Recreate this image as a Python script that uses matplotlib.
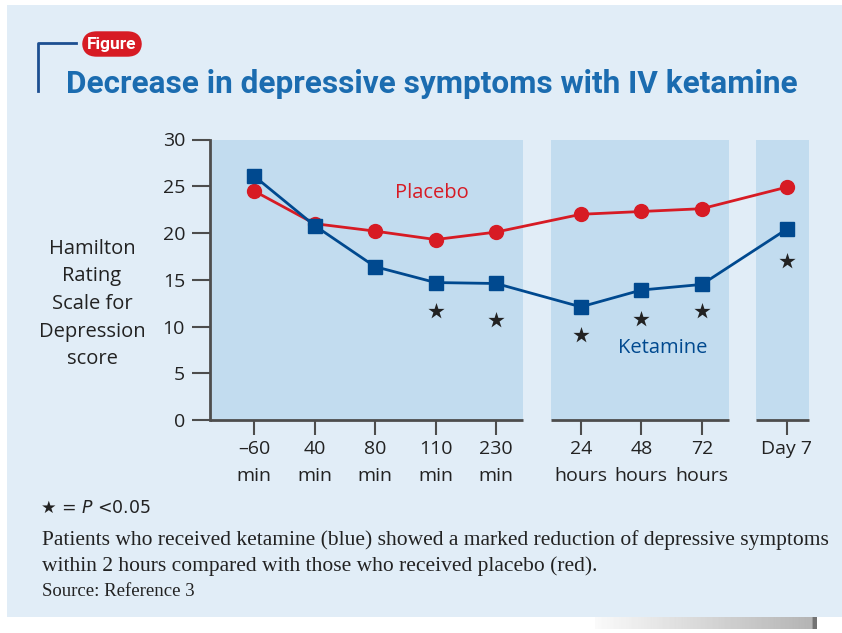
# Ketamine vs. placebo: Hamilton depression score over time
import matplotlib.pyplot as plt
import numpy as np

# Daten
time_points = ['–60\nmin', '40\nmin', '80\nmin', '110\nmin', '230\nmin',
               '24\nhours', '48\nhours', '72\nhours', 'Day 7']
groups = [5, 3, 1]   # minutes, hours, day 7
ketamine = [26.1, 20.8, 16.4, 14.7, 14.6, 12.1, 13.9, 14.5, 20.4]
placebo = [24.5, 21.0, 20.2, 19.3, 20.1, 22.0, 22.3, 22.6, 24.9]
star_idx = [3, 4, 5, 6, 7, 8]
star_vals = [11.7, 10.7, 9.1, 10.8, 11.7, 17.0]
yticks = [0, 5, 10, 15, 20, 25, 30]

RED = '#d71b24'
BLUE = '#00498f'
TITLE_BLUE = '#1b6cb0'
PANEL = '#e1edf7'
SHADE = '#c2dcef'
AXIS = '#4d4d4d'
SANS = ['Open Sans', 'DejaVu Sans']
COND = ['Roboto', 'DejaVu Sans']

# x-Positionen: Gruppen mit Luecke dazwischen
gap = 0.4
x = []
start = 0.0
for g in groups:
    x += [start + i for i in range(g)]
    start = x[-1] + 1 + gap
x = np.array(x)

fig = plt.figure(figsize=(8.42, 6.33), dpi=100)
fig.patch.set_facecolor('white')

# Hintergrund-Panel
bg = fig.add_axes([7 / 842, 16 / 633, 1, 1 - 21 / 633], zorder=-5)
bg.set_facecolor(PANEL)
bg.set_xticks([])
bg.set_yticks([])
for s in bg.spines.values():
    s.set_visible(False)

# Schatten unten rechts (Seitenknick)
sh = fig.add_axes([595 / 842, 4 / 633, 222 / 842, 12 / 633], zorder=-6)
grad = np.tile(np.linspace(0.98, 0.70, 200), (12, 1))
grad[:, -4:] = 0.45
sh.imshow(grad, cmap='gray', vmin=0, vmax=1, aspect='auto')
sh.axis('off')

ax = fig.add_axes([210 / 842, 213 / 633, 599 / 842, 280.5 / 633], zorder=1)
ax.set_facecolor('none')
xl, xr = -0.727, x[-1] + 0.37
ax.set_xlim(xl, xr)
ax.set_ylim(0, 30)

# Schattierte Bereiche
spans = []
k = 0
for gi, g in enumerate(groups):
    a = x[k] - 0.5 if gi > 0 else xl
    b = x[k + g - 1] + 0.45 if gi < 2 else xr
    spans.append((a, b))
    k += g
for a, b in spans:
    ax.axvspan(a, b, color=SHADE, zorder=0, lw=0)
    ax.hlines(0, a, b, color=AXIS, lw=2, clip_on=False, zorder=3)

for s in ['top', 'right', 'bottom']:
    ax.spines[s].set_visible(False)
ax.spines['left'].set_color(AXIS)
ax.spines['left'].set_linewidth(2)
ax.spines['left'].set_zorder(3)

ax.plot(x, placebo, color=RED, lw=2, marker='o', ms=10, zorder=4)
ax.plot(x, ketamine, color=BLUE, lw=2, marker='s', ms=9.5, zorder=5)
ax.scatter(x[star_idx], star_vals, marker='*', s=150, color='#222222',
           linewidths=0, zorder=5)

ax.text(2.94, 24.3, 'Placebo', color=RED, fontsize=14.5, family=SANS,
        ha='center', va='center')
ax.text(6.76, 7.7, 'Ketamine', color=BLUE, fontsize=14.5, family=SANS,
        ha='center', va='center')

ax.set_yticks(yticks)
ax.set_yticklabels([str(v) for v in yticks], fontsize=14, family=SANS, color='#222222')
ax.tick_params(axis='y', length=13, width=1.5, color=AXIS, pad=5)
ax.set_xticks(x)
ax.set_xticklabels(time_points, fontsize=14, family=SANS, color='#222222',
                   linespacing=1.62)
ax.tick_params(axis='x', length=11, width=1.5, color=AXIS, pad=3.5, direction='out')

fig.text(92 / 842, 1 - 304 / 633, 'Hamilton\nRating\nScale for\nDepression\nscore',
         fontsize=14.5, family=SANS, color='#222222', ha='center', va='center',
         linespacing=1.5)

# Titel
fig.text(66 / 842, 1 - 93 / 633, 'Decrease in depressive symptoms with IV ketamine',
         fontsize=22.7, fontweight='bold', color=TITLE_BLUE, family=COND,
         va='baseline')
fig.add_artist(plt.Line2D([38 / 842, 38 / 842, 76 / 842],
                          [1 - 91 / 633, 1 - 43 / 633, 1 - 43 / 633],
                          color='#1d4f91', lw=2))
fig.text(112 / 842, 1 - 44 / 633, 'Figure', fontsize=12.5, fontweight='bold',
         color='white', family=COND, ha='center', va='center',
         bbox=dict(boxstyle='round,pad=0.3,rounding_size=0.85', fc='#d71b24', ec='none'))

# Fussnoten
fig.text(40 / 842, 1 - 508 / 633, '★ = $\\it{P}$ <0.05', fontsize=12.5,
         family=['DejaVu Sans'], color='#222222', va='center')
fig.text(42 / 842, 1 - 540 / 633,
         'Patients who received ketamine (blue) showed a marked reduction of depressive symptoms',
         fontsize=15.5, family=['Liberation Serif'], color='#222222', va='center')
fig.text(42 / 842, 1 - 566 / 633,
         'within 2 hours compared with those who received placebo (red).',
         fontsize=15.5, family=['Liberation Serif'], color='#222222', va='center')
fig.text(42 / 842, 1 - 592 / 633, 'Source: Reference 3', fontsize=13.5,
         family=['Liberation Serif'], color='#222222', va='center')

plt.savefig('out.png', dpi=100)
